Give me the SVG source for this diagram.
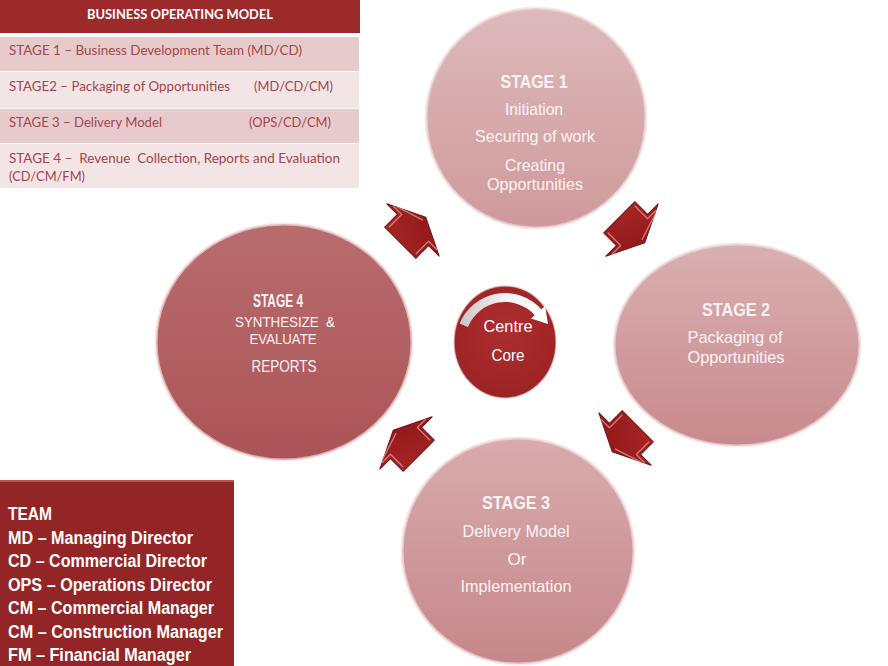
<svg xmlns="http://www.w3.org/2000/svg" xmlns:xlink="http://www.w3.org/1999/xlink" width="888" height="666" viewBox="0 0 888 666">
  <style>
    .tbl { font-family: Lato, "Liberation Sans", sans-serif; font-size: 13px; fill: #a3454a; }
    .ttl { font-family: Lato, "Liberation Sans", sans-serif; font-size: 13px; font-weight: bold; fill: #ffffff; }
    .team { font-family: "Liberation Sans", Arial, sans-serif; font-size: 18px; font-weight: bold; fill: #ffffff; }
    .stg { font-family: "Liberation Sans", Arial, sans-serif; font-size: 19px; font-weight: bold; fill: #fdf2f2; text-anchor: middle; }
    .lbl { font-family: "Liberation Sans", Arial, sans-serif; font-size: 17px; fill: #fdf2f2; text-anchor: middle; }
    .lbl-sm { font-family: "Liberation Sans", Arial, sans-serif; font-size: 15px; fill: #fdf2f2; text-anchor: middle; }
    .core { font-family: "Liberation Sans", Arial, sans-serif; font-size: 17px; fill: #ffffff; text-anchor: middle; }
    .blk { fill: url(#arrowFill); stroke: #7a1212; stroke-width: 1; stroke-linejoin: round; }
    .bevel { fill: none; stroke: #e29a9a; stroke-width: 1.3; stroke-linejoin: round; opacity: 0.75; }
    .ring { stroke: #f1dfe0; stroke-width: 3; stroke-opacity: 0.7; }
  </style>
  <defs>
    <linearGradient id="g1" x1="0" y1="0" x2="0" y2="1">
      <stop offset="0" stop-color="#ddbabc"/>
      <stop offset="1" stop-color="#cf999c"/>
    </linearGradient>
    <linearGradient id="g2" x1="0" y1="0" x2="0" y2="1">
      <stop offset="0" stop-color="#d9b0b2"/>
      <stop offset="1" stop-color="#c8898c"/>
    </linearGradient>
    <linearGradient id="g3" x1="0" y1="0" x2="0" y2="1">
      <stop offset="0" stop-color="#d8abae"/>
      <stop offset="1" stop-color="#c6878a"/>
    </linearGradient>
    <linearGradient id="g4" x1="0" y1="0" x2="0" y2="1">
      <stop offset="0" stop-color="#b86c6e"/>
      <stop offset="1" stop-color="#ac5457"/>
    </linearGradient>
    <radialGradient id="gc" cx="0.5" cy="0.4" r="0.6">
      <stop offset="0" stop-color="#ad2e30"/>
      <stop offset="1" stop-color="#9c2224"/>
    </radialGradient>
    <linearGradient id="swirl" x1="0" y1="0" x2="1" y2="0">
      <stop offset="0" stop-color="#c9c4c4"/>
      <stop offset="0.5" stop-color="#f4f2f2"/>
      <stop offset="1" stop-color="#ffffff"/>
    </linearGradient>
    <linearGradient id="arrowFill" x1="0" y1="0" x2="1" y2="1">
      <stop offset="0" stop-color="#a92626"/>
      <stop offset="1" stop-color="#8c1717"/>
    </linearGradient>
    <!-- block arrow pointing along +x, origin at the head base -->
    <g id="blockArrow">
      <polygon class="blk" points="-18,-22 0,-22 0,-37 18,0 0,37 0,22 -18,22"/>
      <polyline class="bevel" points="-15,-19 3,-19 3,-31"/>
      <polyline class="bevel" points="3,31 3,19 -15,19"/>
      <line class="bevel" x1="5" y1="-28" x2="14" y2="0"/>
    </g>
  </defs>

  <rect width="888" height="666" fill="#ffffff"/>

  <!-- legend table -->
  <g id="stage-table">
    <rect x="0" y="0" width="360" height="33" fill="#9c2a2b"/>
    <text class="ttl" x="87" y="19" textLength="186" lengthAdjust="spacingAndGlyphs">BUSINESS OPERATING MODEL</text>
    <rect x="0" y="37" width="359" height="34" fill="#e7cbcc"/>
    <rect x="0" y="72" width="359" height="36" fill="#f3e4e5"/>
    <rect x="0" y="109" width="359" height="34" fill="#e7cbcc"/>
    <rect x="0" y="144" width="359" height="44" fill="#f3e4e5"/>
    <text class="tbl" x="9" y="55" textLength="293" lengthAdjust="spacingAndGlyphs">STAGE 1 – Business Development Team (MD/CD)</text>
    <text class="tbl" x="9" y="91" textLength="221" lengthAdjust="spacingAndGlyphs">STAGE2 – Packaging of Opportunities</text>
    <text class="tbl" x="254" y="91" textLength="79" lengthAdjust="spacingAndGlyphs">(MD/CD/CM)</text>
    <text class="tbl" x="9" y="127" textLength="153" lengthAdjust="spacingAndGlyphs">STAGE 3 – Delivery Model</text>
    <text class="tbl" x="249" y="127" textLength="82" lengthAdjust="spacingAndGlyphs">(OPS/CD/CM)</text>
    <text class="tbl" x="9" y="163" textLength="331" lengthAdjust="spacingAndGlyphs" xml:space="preserve">STAGE 4 –  Revenue  Collection, Reports and Evaluation</text>
    <text class="tbl" x="9" y="181" textLength="76" lengthAdjust="spacingAndGlyphs">(CD/CM/FM)</text>
  </g>

  <!-- team legend -->
  <g id="team-box">
    <rect x="0" y="480" width="234" height="186" fill="#942526"/>
    <rect x="0" y="480" width="234" height="2" fill="#b65556"/>
    <text class="team" x="8" y="520" textLength="44" lengthAdjust="spacingAndGlyphs">TEAM</text>
    <text class="team" x="8" y="544" textLength="185" lengthAdjust="spacingAndGlyphs">MD – Managing Director</text>
    <text class="team" x="8" y="567" textLength="199" lengthAdjust="spacingAndGlyphs">CD – Commercial Director</text>
    <text class="team" x="8" y="591" textLength="204" lengthAdjust="spacingAndGlyphs">OPS – Operations Director</text>
    <text class="team" x="8" y="614" textLength="206" lengthAdjust="spacingAndGlyphs">CM – Commercial Manager</text>
    <text class="team" x="8" y="638" textLength="215" lengthAdjust="spacingAndGlyphs">CM – Construction Manager</text>
    <text class="team" x="8" y="661" textLength="183" lengthAdjust="spacingAndGlyphs">FM – Financial Manager</text>
  </g>

  <!-- stage nodes -->
  <g id="stage-1">
    <ellipse class="ring" cx="536" cy="118" rx="110" ry="110" fill="url(#g1)"/>
    <text class="stg" x="534" y="88" textLength="67" lengthAdjust="spacingAndGlyphs">STAGE 1</text>
    <text class="lbl" x="534" y="115" textLength="58" lengthAdjust="spacingAndGlyphs">Initiation</text>
    <text class="lbl" x="535" y="142" textLength="120" lengthAdjust="spacingAndGlyphs">Securing of work</text>
    <text class="lbl" x="535" y="171" textLength="60" lengthAdjust="spacingAndGlyphs">Creating</text>
    <text class="lbl" x="535" y="190" textLength="96" lengthAdjust="spacingAndGlyphs">Opportunities</text>
  </g>

  <g id="stage-2">
    <ellipse class="ring" cx="737" cy="345" rx="123" ry="101" fill="url(#g2)"/>
    <text class="stg" x="736" y="316" textLength="68" lengthAdjust="spacingAndGlyphs">STAGE 2</text>
    <text class="lbl" x="735" y="343" textLength="95" lengthAdjust="spacingAndGlyphs">Packaging of</text>
    <text class="lbl" x="736" y="363" textLength="97" lengthAdjust="spacingAndGlyphs">Opportunities</text>
  </g>

  <g id="stage-3">
    <ellipse class="ring" cx="518" cy="551" rx="116" ry="113" fill="url(#g3)"/>
    <text class="stg" x="516" y="509" textLength="68" lengthAdjust="spacingAndGlyphs">STAGE 3</text>
    <text class="lbl" x="516" y="537" textLength="107" lengthAdjust="spacingAndGlyphs">Delivery Model</text>
    <text class="lbl" x="517" y="565" textLength="19" lengthAdjust="spacingAndGlyphs">Or</text>
    <text class="lbl" x="516" y="592" textLength="111" lengthAdjust="spacingAndGlyphs">Implementation</text>
  </g>

  <g id="stage-4">
    <ellipse class="ring" cx="284" cy="342" rx="128" ry="118" fill="url(#g4)"/>
    <text class="stg" x="278" y="307" textLength="50" lengthAdjust="spacingAndGlyphs">STAGE 4</text>
    <text class="lbl-sm" x="285" y="327" textLength="100" lengthAdjust="spacingAndGlyphs" xml:space="preserve">SYNTHESIZE  &amp;</text>
    <text class="lbl-sm" x="283" y="344" textLength="67" lengthAdjust="spacingAndGlyphs">EVALUATE</text>
    <text class="lbl" x="284" y="372" textLength="65" lengthAdjust="spacingAndGlyphs">REPORTS</text>
  </g>

  <g id="centre-core">
    <ellipse cx="505" cy="342" rx="51" ry="56" fill="url(#gc)" stroke="#e8c8c8" stroke-width="1.5" stroke-opacity="0.6"/>
    <path d="M459.6,323.6 A49,49 0 0 1 541.4,309.2 L545.1,305.9 L548,324 L531,318.6 L534.7,315.2 A40,40 0 0 0 467.9,327 Z" fill="url(#swirl)"/>
    <text class="core" x="508" y="332" textLength="49" lengthAdjust="spacingAndGlyphs">Centre</text>
    <text class="core" x="508" y="361" textLength="33" lengthAdjust="spacingAndGlyphs">Core</text>
  </g>

  <!-- flow arrows between stages -->
  <g id="connectors">
    <use xlink:href="#blockArrow" transform="translate(413,230) rotate(-45)"/>
    <use xlink:href="#blockArrow" transform="translate(632,230) rotate(45)"/>
    <use xlink:href="#blockArrow" transform="translate(625,439) rotate(135)"/>
    <use xlink:href="#blockArrow" transform="translate(406,443) rotate(225)"/>
  </g>
</svg>
